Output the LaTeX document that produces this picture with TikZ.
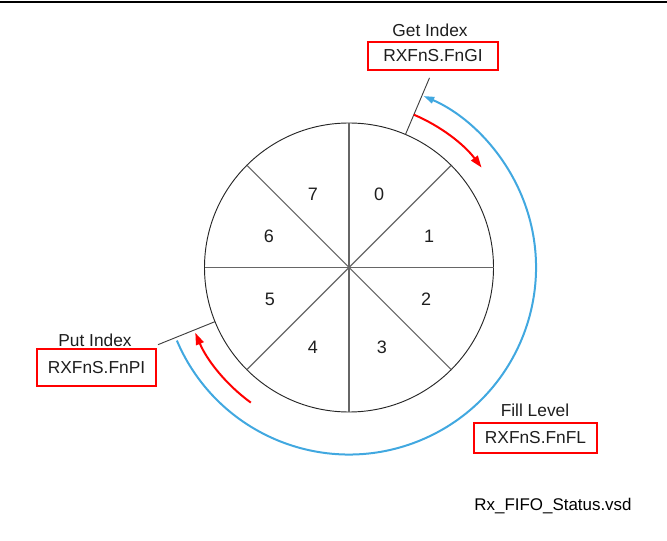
\documentclass[tikz,border=0pt]{standalone}
\usepackage{fontspec}
\setmainfont{Liberation Sans}
\usetikzlibrary{arrows.meta,calc}
\definecolor{fblue}{RGB}{65,168,224}
\definecolor{txt}{RGB}{30,30,30}
\begin{document}
\begin{tikzpicture}[x=0.75pt,y=0.75pt,
  lbl/.style={font=\fontsize{13}{15}\selectfont, text=txt, inner sep=0pt},
  regbox/.style={draw=red, line width=1.5pt, font=\fontsize{13}{15}\selectfont, text=txt, inner sep=0pt, minimum height=#1},
  num/.style={font=\fontsize{13.5}{15}\selectfont, text=txt, inner sep=0pt},
  spoke/.style={draw=black!60, line width=0.8pt},
  tick/.style={draw=black!75, line width=0.7pt},
  redarr/.style={draw=red, line width=1.5pt, -{Triangle[length=9pt,width=6pt]}},
  bluearr/.style={draw=fblue, line width=1.5pt, -{Triangle[length=8pt,width=5pt]}}
]
\useasboundingbox (0,0) rectangle (667,-541);
\draw[line width=1.5pt] (0,-2) -- (667,-2);

\node[circle, draw=black!85, line width=0.7pt, minimum size=216.75pt, inner sep=0pt, outer sep=0pt] (ring) at (349,-267.5) {};
\foreach \a in {0,45,90,135} {
  \pgfmathsetmacro{\b}{\a+180}
  \draw[spoke] (ring.\a) -- (ring.\b);
}

\node[num] (n0) at (379,-194) {0};
\node[num] (n1) at (429,-236) {1};
\node[num] (n2) at (426,-299) {2};
\node[num] (n3) at (382,-347) {3};
\node[num] (n4) at (313,-347) {4};
\node[num] (n5) at (270,-299) {5};
\node[num] (n6) at (269,-236) {6};
\node[num] (n7) at (313,-194) {7};

% index ticks
\coordinate (gtick) at ($(ring.center)+(67:206)$);
\coordinate (ptick) at ($(ring.center)+(202:206)$);
\draw[tick] (ring.67) -- (gtick);
\draw[tick] (ring.202) -- (ptick);

% red arrows
\draw[redarr] ($(ring.center)+(67:166)$) arc[start angle=67, end angle=37, radius=166];
\draw[redarr] ($(ring.center)+(234:167)$) arc[start angle=234, end angle=203, radius=167];

% blue fill level arc
\draw[bluearr] ($(ring.center)+(203:187)$) arc[start angle=203, end angle=426.5, radius=187];

% labels
\node[lbl] (getl) at (430,-30) {Get Index};
\node[regbox=21pt, minimum width=97.5pt] (getb) at (433,-56) {RXFnS.FnGI};
\node[lbl] (putl) at (95,-340) {Put Index};
\node[regbox=27.75pt, minimum width=89.25pt] (putb) at (96.5,-367.5) {RXFnS.FnPI};
\node[lbl] (filll) at (535,-410) {Fill Level};
\node[regbox=22.5pt, minimum width=92.25pt] (fillb) at (535.5,-438) {RXFnS.FnFL};
\node[font=\fontsize{12.7}{15}\selectfont, text=black, inner sep=0pt] (fname) at (553,-506) {Rx\_FIFO\_Status.vsd};
\end{tikzpicture}
\end{document}
